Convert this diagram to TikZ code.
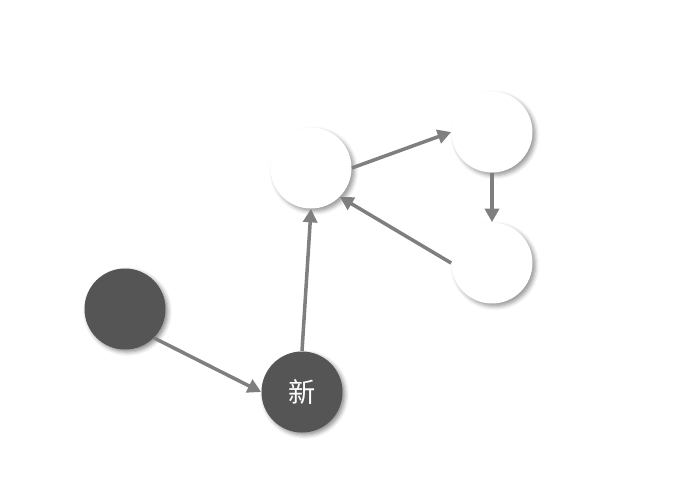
\documentclass[tikz,border=0pt]{standalone}
\usepackage{fontspec}
\newfontfamily\cjk{Noto Sans CJK SC}
\usetikzlibrary{arrows.meta,positioning,shadows.blur}

\definecolor{darkfill}{HTML}{555555}
\definecolor{linkgray}{HTML}{7F7F7F}

\begin{document}
\begin{tikzpicture}
[node distance = 1cm, on grid, font=\cjk,
% STYLES
every node/.style={circle, minimum size=1.62cm, inner sep=0pt},
old/.style={fill=darkfill, text=white, font=\cjk\fontsize{15.5pt}{16pt}\selectfont,
  blur shadow={shadow xshift=0.05cm, shadow yshift=-0.05cm, shadow blur radius=0.08cm, shadow opacity=45}},
plain/.style={fill=white,
  blur shadow={shadow xshift=0.06cm, shadow yshift=-0.06cm, shadow blur radius=0.08cm, shadow opacity=40}},
link/.style={draw=linkgray, line width=2pt, -{Triangle[length=0.27cm, width=0.28cm]}}]

\useasboundingbox (0,0) rectangle (13.72,-9.72);

% dark nodes
\node [old] at (2.50,-6.18) (start) {};
\node [old, below right=1.66cm and 3.54cm of start] (new) {新};

% white nodes
\node [plain, above right=4.48cm and 0.18cm of new] (hub) {};
\node [plain, above right=0.72cm and 3.62cm of hub] (top) {};
\node [plain, below=2.62cm of top] (bottom) {};

%%%%%%%%%%%%%%%%

\draw[link] (start.south east) -- (new.west);
\draw[link] (new.north) -- (hub.south);
\draw[link] (hub.east) -- (top.west);
\draw[link] (top.south) -- (bottom.north);
\draw[link] (bottom.west) -- (hub.south east);

\end{tikzpicture}
\end{document}
